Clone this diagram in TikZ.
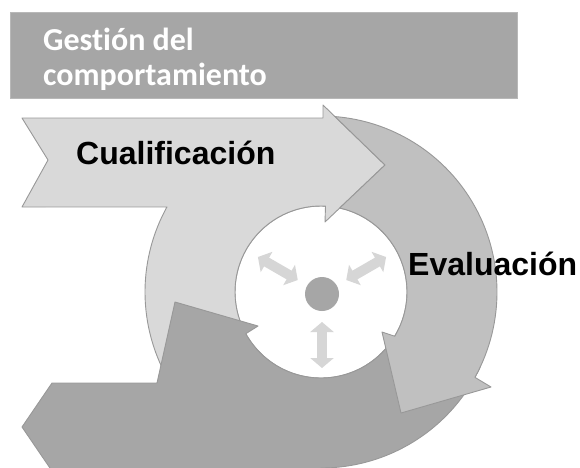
\documentclass[tikz,border=0pt]{standalone}
\usepackage{fontspec}
\setmainfont{Liberation Sans}
\newfontfamily\headfont[Ligatures=NoCommon]{Carlito}
\usetikzlibrary{calc,arrows.meta}
\definecolor{lightfill}{HTML}{D9D9D9}
\definecolor{midfill}{HTML}{C0C0C0}
\definecolor{darkfill}{HTML}{A6A6A6}
\definecolor{edgegray}{HTML}{989898}
\definecolor{tinyarrow}{HTML}{D6D6D6}

\begin{document}
\begin{tikzpicture}[x=1pt, y=-1pt,
    shapeline/.style={draw=edgegray, line width=0.9pt, line join=round},
    label/.style={font=\bfseries\fontsize{32}{38}\selectfont, anchor=base west, inner sep=0pt},
    smallarrow/.style={draw=tinyarrow, line width=10pt,
      {Triangle[width=23pt,length=10pt]}-{Triangle[width=23pt,length=10pt]}}
  ]
  \clip (0,0) rectangle (580,467);
  % Header bar
  \filldraw[fill=darkfill, draw=darkfill!80] (10,12) rectangle (517,98);
  \node[font=\headfont\bfseries\fontsize{32}{35}\selectfont, text=white, align=left,
    anchor=base west, inner sep=0pt] (gestion) at (43,85) {Gesti\'on del\\comportamiento};
  % Cycle centre and radii
  \coordinate (C) at (321,292);
  \coordinate (hub) at (322,294);
  \def\rin{86}
  \def\rout{176}
  % White disc
  \filldraw[fill=white, draw=edgegray, line width=0.9pt] (C) circle (\rin);
  % Cualificacion arrow
  \filldraw[shapeline, fill=lightfill] (22,118) -- (323,118) -- (323,105) -- (385,165) -- (325,222)
    -- ($(C)+(273:\rin)$) arc[start angle=273, end angle=153, radius=\rin]
    -- ($(C)+(153:\rout)$) arc[start angle=153, end angle=208.9, radius=\rout]
    -- (22,207) -- (48,160) -- cycle;
  % Lower arrow with left exit
  \filldraw[shapeline, fill=darkfill] ($(C)+(25:\rin)$) arc[start angle=25, end angle=151, radius=\rin]
    -- (258,326) -- (175,302) -- (157,383) -- (52,383) -- (22,427) -- (52,471)
    -- (321,471) -- ($(C)+(90:\rout)$) arc[start angle=90, end angle=25, radius=\rout] -- cycle;
  % Evaluacion arrow
  \filldraw[shapeline, fill=midfill] (334.8,116.4) -- (385,165) -- (339.7,208.0)
    arc[start angle=282.55, end angle=391, radius=\rin]
    -- (382,332) -- (401,413) -- (491,387) -- ($(C)+(29:\rout)$)
    arc[start angle=389, end angle=274.5, radius=\rout] -- cycle;
  % Hub with three double arrows
  \foreach \a in {90,210,330}
    \draw[smallarrow] ($(hub)+(\a:28)$) -- ($(hub)+(\a:74)$);
  \fill[darkfill] (hub) circle (17);
  % Labels
  \node[label] (cualif) at (76,164) {Cualificaci\'on};
  \node[label] (evalua) at (408,275) {Evaluaci\'on};
\end{tikzpicture}
\end{document}
